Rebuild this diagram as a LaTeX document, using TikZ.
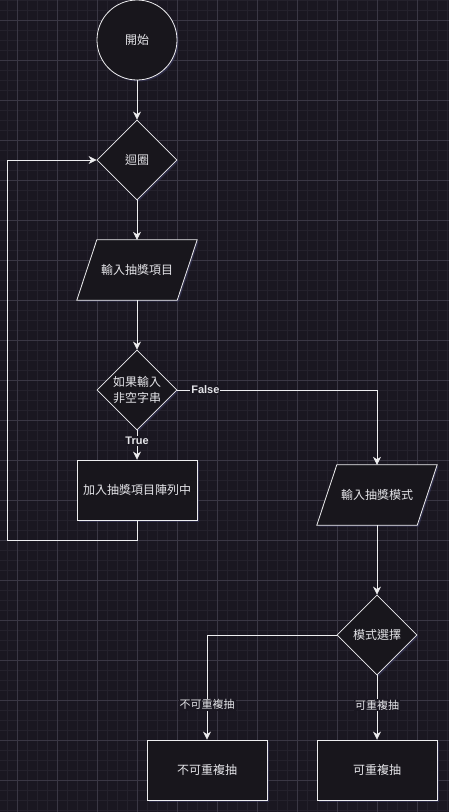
\documentclass[tikz,border=0pt]{standalone}
\usepackage{xcolor}
\usepackage{fontspec}
\setmainfont{Noto Sans CJK TC}
\newfontfamily\latinsans{Liberation Sans}
\usepackage{tikz}
\usetikzlibrary{shapes.geometric,arrows.meta,shadows}

\definecolor{bgcol}{RGB}{26,23,33}
\definecolor{minorcol}{RGB}{36,33,44}
\definecolor{majorcol}{RGB}{58,55,68}
\definecolor{nodecol}{RGB}{24,22,28}
\definecolor{linecol}{RGB}{238,238,240}
\definecolor{txtcol}{RGB}{228,228,232}
\definecolor{glowcol}{RGB}{62,62,105}

\pgfdeclarelayer{back}
\pgfsetlayers{back,main}

\begin{document}
\begin{tikzpicture}[x=1pt,y=-1pt]
		\useasboundingbox (0,0) rectangle (449,812);
		\tikzstyle{glow}=[drop shadow={shadow xshift=1.5pt,shadow yshift=-1.5pt,fill=glowcol,opacity=0.5}]
		\tikzstyle{shape base}=[draw=linecol,fill=nodecol,text=txtcol,line width=0.8pt,inner sep=0pt,
			font=\fontsize{12}{16}\selectfont,align=center,glow]
		\tikzstyle{terminal}=[shape base,circle,minimum size=80]
		\tikzstyle{decision}=[shape base,diamond,minimum width=80,minimum height=80,aspect=1]
		\tikzstyle{iobox}=[rectangle,inner sep=0pt,text=txtcol,font=\fontsize{12}{16}\selectfont,
			minimum width=100,minimum height=60]
		\tikzstyle{ioframe}=[draw=linecol,fill=nodecol,line width=0.8pt,line join=miter,glow]
		\tikzstyle{procbox}=[shape base,rectangle,minimum width=120,minimum height=60]
		\tikzstyle{flow}=[draw=linecol,line width=0.8pt,-{Stealth[length=8pt,width=8pt,inset=2.5pt]}]
		\tikzstyle{lbl}=[fill=bgcol,text=txtcol,inner sep=1pt,font=\fontsize{11}{13}\selectfont]
		\tikzstyle{tflbl}=[lbl,font=\latinsans\bfseries\fontsize{11}{13}\selectfont]
		\node[terminal] (start) at (137,40) {開始};
		\node[decision] (loop) at (137,160) {迴圈};
		\node[iobox] (getitem) at (137,270) {輸入抽獎項目};
		\node[decision] (notempty) at (137,390) {如果輸入\\非空字串};
		\node[procbox] (additem) at (137,490) {加入抽獎項目陣列中};
		\node[iobox] (getmode) at (377,495) {輸入抽獎模式};
		\node[decision] (pickmode) at (377,635) {模式選擇};
		\node[procbox] (norepeat) at (207,770) {不可重複抽};
		\node[procbox] (repeat) at (377,770) {可重複抽};
		\coordinate (loopcorner) at (7.3,540);
		% background, grid and the slanted input frames
		\begin{pgfonlayer}{back}
			\fill[bgcol] (0,0) rectangle (449,812);
			\foreach \gx in {0,...,44} \draw[minorcol,line width=0.5pt] (7.3+10*\gx,0) -- (7.3+10*\gx,812);
			\foreach \gy in {0,...,81} \draw[minorcol,line width=0.5pt] (0,0.7+10*\gy) -- (449,0.7+10*\gy);
			\foreach \gx in {0,...,10} \draw[majorcol,line width=0.6pt] (17.3+40*\gx,0) -- (17.3+40*\gx,812);
			\foreach \gy in {0,...,19} \draw[majorcol,line width=0.6pt] (0,20.7+40*\gy) -- (449,20.7+40*\gy);
			\foreach \ionode in {getitem,getmode}
				\draw[ioframe] ([xshift=-10pt]\ionode.south west) -- ([xshift=10pt]\ionode.north west)
					-- ([xshift=10pt]\ionode.north east) -- ([xshift=-10pt]\ionode.south east) -- cycle;
		\end{pgfonlayer}
		\draw[flow] (start) -- (loop);
		\draw[flow] (loop) -- (getitem);
		\draw[flow] (getitem) -- (notempty);
		\draw[flow] (notempty) -- node[tflbl,pos=0.37] {True} (additem);
		\draw[flow] (additem.south) |- (loopcorner) |- (loop.west);
		\draw[flow] (notempty.east) -| node[tflbl,pos=0.07] {False} (getmode.north);
		\draw[flow] (getmode) -- (pickmode);
		\draw[flow] (pickmode.west) -| node[lbl,pos=0.833] {不可重複抽} (norepeat.north);
		\draw[flow] (pickmode.south) -- node[lbl,pos=0.46] {可重複抽} (repeat.north);
\end{tikzpicture}
\end{document}
